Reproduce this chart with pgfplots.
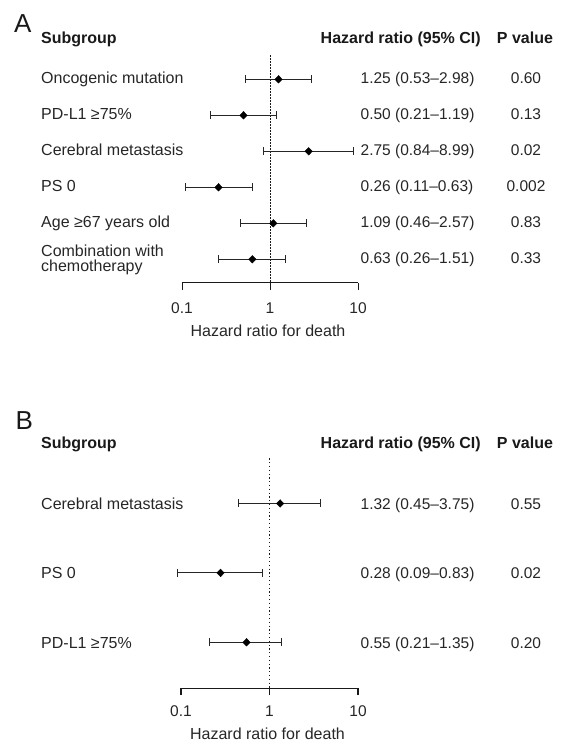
\documentclass[border=0pt]{standalone}
\usepackage{pgfplots}
\pgfplotsset{compat=1.18}
\usepackage{pgfplotstable}
\usepackage{fontspec}
\setmainfont{Liberation Sans}
\newcommand\labf{\fontsize{16}{19}\selectfont}
\newcommand\numf{\fontsize{15.5}{18}\selectfont}
\newcommand\hdrf{\fontsize{16}{19}\selectfont\bfseries}

% Panel A: hazard ratios (row, HR, lower, upper)
\pgfplotstableread{
row hr lo hi
1 1.25 0.53 2.98
2 0.50 0.21 1.19
3 2.75 0.84 8.99
4 0.26 0.11 0.63
5 1.09 0.46 2.57
6 0.63 0.26 1.51
}\tabA
\pgfplotstableread{
x y
0.53 1
2.98 1
nan nan
0.21 2
1.19 2
nan nan
0.84 3
8.99 3
nan nan
0.11 4
0.63 4
nan nan
0.46 5
2.57 5
nan nan
0.26 6
1.51 6
}\ciA
% Panel B
\pgfplotstableread{
row hr lo hi
1 1.32 0.45 3.75
2 0.28 0.09 0.83
3 0.55 0.21 1.35
}\tabB
\pgfplotstableread{
x y
0.45 1
3.75 1
nan nan
0.09 2
0.83 2
nan nan
0.21 3
1.35 3
}\ciB

\begin{document}
\begin{tikzpicture}
\path[use as bounding box] (0,0) rectangle (563pt,-744pt);

% ---------- Panel A ----------
\begin{axis}[scale only axis, xmode=log, xmin=0.1, xmax=10, y dir=reverse,
  at={(182pt,-282.7pt)}, anchor=south west,
  width=176pt, height=227.7pt, ymin=0.325, ymax=6.65,
  axis x line*=bottom, axis y line=none,
  xtick={0.1,1,10}, xticklabels={0.1,1,10}, xminorticks=false,
  xtick align=outside, major tick length=7pt, clip=false, ytick=\empty,
  axis line style={line width=0.9pt, black!90},
  major tick style={line width=0.9pt, black!90},
  xticklabel style={font=\numf, anchor=center, text=black!85, yshift=-18.3pt},
  xlabel={Hazard ratio for death},
  xlabel style={font=\labf, anchor=center, text=black!85, at={(axis description cs:0.5,0)}, yshift=-47.8pt, xshift=-2pt}]
\addplot[black!90, line width=0.8pt, dash pattern=on 1.6pt off 1.4pt] coordinates {(1,0.325) (1,6.65)};
\addplot[black!85, line width=0.9pt, mark=|, mark size=4pt, mark options={solid}, unbounded coords=jump] table[x=x, y=y] {\ciA};
\addplot[black, only marks, mark=diamond*, mark size=3.8pt, mark options={xscale=1.3}] table[x=hr, y=row] {\tabA};
\end{axis}

\node[anchor=base west, inner sep=0, font=\fontsize{26}{30}\selectfont, text=black!90] at (14pt,-32pt) {A};
\node[anchor=base west, inner sep=0, font=\hdrf, text=black!90] at (41pt,-43.6pt) {Subgroup};
\node[anchor=base west, inner sep=0, font=\hdrf, text=black!90] at (320.5pt,-43.6pt) {Hazard ratio (95\% CI)};
\node[anchor=base, inner sep=0, font=\hdrf, text=black!90] at (525pt,-43.6pt) {P value};

\begin{scope}[every node/.style={inner sep=0, text=black!85}]
\node[anchor=base west, font=\labf] at (41pt,-83.6pt) {Oncogenic mutation};
\node[anchor=base west, font=\labf] at (41pt,-119.6pt) {PD-L1 ≥75\%};
\node[anchor=base west, font=\labf] at (41pt,-155.6pt) {Cerebral metastasis};
\node[anchor=base west, font=\labf] at (41pt,-191.6pt) {PS 0};
\node[anchor=base west, font=\labf] at (41pt,-227.6pt) {Age ≥67 years old};
\node[anchor=base west, font=\labf] at (41pt,-256.7pt) {Combination with};
\node[anchor=base west, font=\labf] at (41pt,-271.7pt) {chemotherapy};

\node[anchor=base west, font=\numf] at (360.5pt,-83.6pt) {1.25 (0.53–2.98)};
\node[anchor=base west, font=\numf] at (360.5pt,-119.6pt) {0.50 (0.21–1.19)};
\node[anchor=base west, font=\numf] at (360.5pt,-155.6pt) {2.75 (0.84–8.99)};
\node[anchor=base west, font=\numf] at (360.5pt,-191.6pt) {0.26 (0.11–0.63)};
\node[anchor=base west, font=\numf] at (360.5pt,-227.6pt) {1.09 (0.46–2.57)};
\node[anchor=base west, font=\numf] at (360.5pt,-263.6pt) {0.63 (0.26–1.51)};

\node[anchor=base, font=\numf] at (526pt,-83.6pt) {0.60};
\node[anchor=base, font=\numf] at (526pt,-119.6pt) {0.13};
\node[anchor=base, font=\numf] at (526pt,-155.6pt) {0.02};
\node[anchor=base, font=\numf] at (526pt,-191.6pt) {0.002};
\node[anchor=base, font=\numf] at (526pt,-227.6pt) {0.83};
\node[anchor=base, font=\numf] at (526pt,-263.6pt) {0.33};
\end{scope}

% ---------- Panel B ----------
\begin{axis}[scale only axis, xmode=log, xmin=0.1, xmax=10, y dir=reverse,
  at={(181pt,-688.3pt)}, anchor=south west,
  width=177pt, height=230pt, ymin=0.349, ymax=3.663,
  axis x line*=bottom, axis y line=none,
  xtick={0.1,1,10}, xticklabels={0.1,1,10}, xminorticks=false,
  xtick align=outside, major tick length=7pt, clip=false, ytick=\empty,
  axis line style={line width=1.1pt, black!90},
  major tick style={line width=1.1pt, black!90},
  xticklabel style={font=\numf, anchor=center, text=black!85, yshift=-15.7pt},
  xlabel={Hazard ratio for death},
  xlabel style={font=\labf, anchor=center, text=black!85, at={(axis description cs:0.5,0)}, yshift=-45.5pt, xshift=-2pt}]
\addplot[black!90, line width=1.3pt, dash pattern=on 1.3pt off 2.5pt] coordinates {(1,0.349) (1,3.663)};
\addplot[black!85, line width=0.9pt, mark=|, mark size=4pt, mark options={solid}, unbounded coords=jump] table[x=x, y=y] {\ciB};
\addplot[black, only marks, mark=diamond*, mark size=3.8pt, mark options={xscale=1.3}] table[x=hr, y=row] {\tabB};
\end{axis}

\node[anchor=base west, inner sep=0, font=\fontsize{26}{30}\selectfont, text=black!90] at (15.5pt,-429.3pt) {B};
\node[anchor=base west, inner sep=0, font=\hdrf, text=black!90] at (41pt,-448.6pt) {Subgroup};
\node[anchor=base west, inner sep=0, font=\hdrf, text=black!90] at (320.5pt,-448.6pt) {Hazard ratio (95\% CI)};
\node[anchor=base, inner sep=0, font=\hdrf, text=black!90] at (525pt,-448.6pt) {P value};

\begin{scope}[every node/.style={inner sep=0, text=black!85}]
\node[anchor=base west, font=\labf] at (41pt,-509.2pt) {Cerebral metastasis};
\node[anchor=base west, font=\labf] at (41pt,-578.7pt) {PS 0};
\node[anchor=base west, font=\labf] at (41pt,-648.0pt) {PD-L1 ≥75\%};

\node[anchor=base west, font=\numf] at (360.5pt,-509.2pt) {1.32 (0.45–3.75)};
\node[anchor=base west, font=\numf] at (360.5pt,-578.7pt) {0.28 (0.09–0.83)};
\node[anchor=base west, font=\numf] at (360.5pt,-648.0pt) {0.55 (0.21–1.35)};

\node[anchor=base, font=\numf] at (526pt,-509.2pt) {0.55};
\node[anchor=base, font=\numf] at (526pt,-578.7pt) {0.02};
\node[anchor=base, font=\numf] at (526pt,-648.0pt) {0.20};
\end{scope}
\end{tikzpicture}
\end{document}
